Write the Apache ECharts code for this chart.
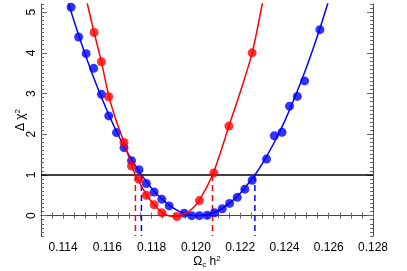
<!DOCTYPE html>
<html><head><meta charset="utf-8">
<script src="https://cdn.jsdelivr.net/npm/echarts@6/dist/echarts.min.js"></script>
<style>html,body{margin:0;padding:0;background:#fff}#c{width:407px;height:271px}</style>
</head><body><div id="c"></div>
<script>
// ---- data ----
const xTickLabels = [0.114, 0.116, 0.118, 0.120, 0.122, 0.124, 0.126, 0.128];
const yTickLabels = [0, 1, 2, 3, 4, 5];

const blueX = [0.11436,0.11470,0.11504,0.11538,0.11573,0.11606,0.11641,0.11675,0.11709,0.11743,0.11776,0.11811,0.11846,0.11879,0.11947,0.11981,0.12016,0.12051,0.12084,0.12119,0.12152,0.12187,0.12221,0.12254,0.12319,0.12354,0.12389,0.12423,0.12458,0.12491,0.12560];
const blueY = [5.12,4.39,3.98,3.62,2.98,2.45,2.04,1.67,1.35,1.13,0.79,0.58,0.40,0.24,0.06,0.00,0.00,0.01,0.07,0.17,0.30,0.45,0.65,0.87,1.39,1.96,2.05,2.69,2.93,3.31,4.57];

const redX = [0.11540,0.11573,0.11606,0.11675,0.11709,0.11742,0.11776,0.11811,0.11846,0.11914,0.12016,0.12081,0.12149,0.12254];
const redY = [4.50,3.78,2.92,1.80,1.22,0.90,0.50,0.27,0.07,-0.02,0.37,1.05,2.20,4.00];

const blueCurveX = [0.1142,0.1145,0.1150,0.1155,0.1160,0.1165,0.1170,0.11754,0.1180,0.1185,0.1190,0.1195,0.1200,0.1205,0.1210,0.1215,0.1220,0.12266,0.1230,0.1235,0.1240,0.1245,0.1250,0.1255,0.1260,0.1262];
const blueCurveY = [5.30,4.77,3.96,3.22,2.56,1.97,1.46,1.00,0.67,0.39,0.18,0.05,0.00,0.02,0.12,0.30,0.55,1.00,1.28,1.76,2.31,2.95,3.65,4.43,5.29,5.66];

const redCurveX = [0.11500,0.11510,0.11540,0.11573,0.11606,0.11640,0.11675,0.11709,0.117266,0.11776,0.11811,0.11846,0.11880,0.11914,0.11950,0.11985,0.12016,0.12075,0.12112,0.12149,0.12200,0.12254,0.12300,0.12320];
const redCurveY = [5.43,5.19,4.50,3.78,2.95,2.33,1.80,1.24,1.00,0.52,0.27,0.08,-0.01,-0.02,0.04,0.18,0.38,1.00,1.57,2.20,3.03,4.00,5.20,5.70];

const threshold = 1;
const redLimits = [0.117266, 0.120749];
const blueLimits = [0.117537, 0.122664];

const xMin = 0.113, xMax = 0.128, yMin = -0.5, yMax = 5.2;

// ---- chart ----
const zip = (a, b) => a.map((v, i) => [v, b[i]]);
const RED = '#ff0000', BLUE = '#0000ff';
const frame = {show: true, lineStyle: {color: '#444', width: 1}};
const tickStyle = {color: '#666', width: 1};
const font = 'Liberation Sans, Arial, sans-serif';

function vline(x, color) {
  return {type: 'line', data: [[x, threshold], [x, yMin]], symbol: 'none', silent: true,
    lineStyle: {color: color, width: 1.5, type: [6, 4]}, z: 3};
}

const option = {
  animation: false,
  grid: {left: 41, right: 34, top: 4, bottom: 35, containLabel: false, outerBoundsMode: 'none'},
  xAxis: [
    {type: 'value', min: xMin, max: xMax, interval: 0.0005, position: 'bottom',
     axisLine: frame, axisTick: {inside: true, length: 3, lineStyle: tickStyle},
     axisLabel: {customValues: xTickLabels, formatter: v => v.toFixed(3), color: '#000', fontSize: 12, fontFamily: font, margin: 6},
     splitLine: {show: false},
     name: '{a|Ω}{s|c}{a| h}{p|2}', nameLocation: 'middle', nameGap: 19, nameMoveOverlap: false,
     nameTextStyle: {rich: {
       a: {fontSize: 12, fontFamily: font, color: '#000', lineHeight: 14},
       s: {fontSize: 8, fontFamily: font, color: '#000', verticalAlign: 'bottom', lineHeight: 14, padding: [4, 0, 0, 0]},
       p: {fontSize: 8, fontFamily: font, color: '#000', verticalAlign: 'top', lineHeight: 10}
     }}},
    {type: 'value', min: xMin, max: xMax, interval: 0.0005, position: 'top',
     axisLine: frame, axisTick: {inside: true, length: 3, lineStyle: tickStyle},
     axisLabel: {show: false}, splitLine: {show: false}}
  ],
  yAxis: [
    {type: 'value', min: yMin, max: yMax, interval: 0.1, position: 'left',
     axisLine: frame, axisTick: {inside: true, length: 3, lineStyle: tickStyle},
     axisLabel: {customValues: yTickLabels, rotate: 90, color: '#000', fontSize: 12, fontFamily: font, margin: 3},
     splitLine: {show: false},
     name: '{a|Δ χ}{p|2}', nameLocation: 'middle', nameGap: 13, nameMoveOverlap: false,
     nameTextStyle: {rich: {
       a: {fontSize: 12, fontFamily: font, color: '#000', lineHeight: 14},
       p: {fontSize: 8, fontFamily: font, color: '#000', verticalAlign: 'top', lineHeight: 10}
     }}},
    {type: 'value', min: yMin, max: yMax, position: 'left',
     axisLine: {show: false}, axisTick: {show: true, inside: true, length: 6, customValues: yTickLabels, lineStyle: tickStyle},
     axisLabel: {show: false}, splitLine: {show: false}},
    {type: 'value', min: yMin, max: yMax, interval: 0.1, position: 'right',
     axisLine: frame, axisTick: {inside: true, length: 3, lineStyle: tickStyle},
     axisLabel: {show: false}, splitLine: {show: false}},
    {type: 'value', min: yMin, max: yMax, position: 'right',
     axisLine: {show: false}, axisTick: {show: true, inside: true, length: 6, customValues: yTickLabels, lineStyle: tickStyle},
     axisLabel: {show: false}, splitLine: {show: false}}
  ],
  series: [
    {type: 'line', data: [[xMin, threshold], [xMax, threshold]], symbol: 'none', silent: true,
     lineStyle: {color: '#000', width: 1.5}, z: 2},
    vline(redLimits[0], RED), vline(redLimits[1], RED),
    vline(blueLimits[0], BLUE), vline(blueLimits[1], BLUE),
    {type: 'line', data: zip(blueCurveX, blueCurveY), smooth: 0.3, symbol: 'none', clip: true,
     lineStyle: {color: BLUE, width: 1.5}, z: 4},
    {type: 'scatter', data: zip(blueX, blueY), symbol: 'circle', symbolSize: 9,
     itemStyle: {color: BLUE}, z: 5},
    {type: 'line', data: zip(redCurveX, redCurveY), smooth: 0.3, symbol: 'none', clip: true,
     lineStyle: {color: RED, width: 1.5}, z: 6},
    {type: 'scatter', data: zip(redX, redY), symbol: 'circle', symbolSize: 9,
     itemStyle: {color: RED}, z: 7}
  ]
};
const chart = echarts.init(document.getElementById('c'), null, {renderer: 'canvas'});
chart.setOption(option);
</script></body></html>
